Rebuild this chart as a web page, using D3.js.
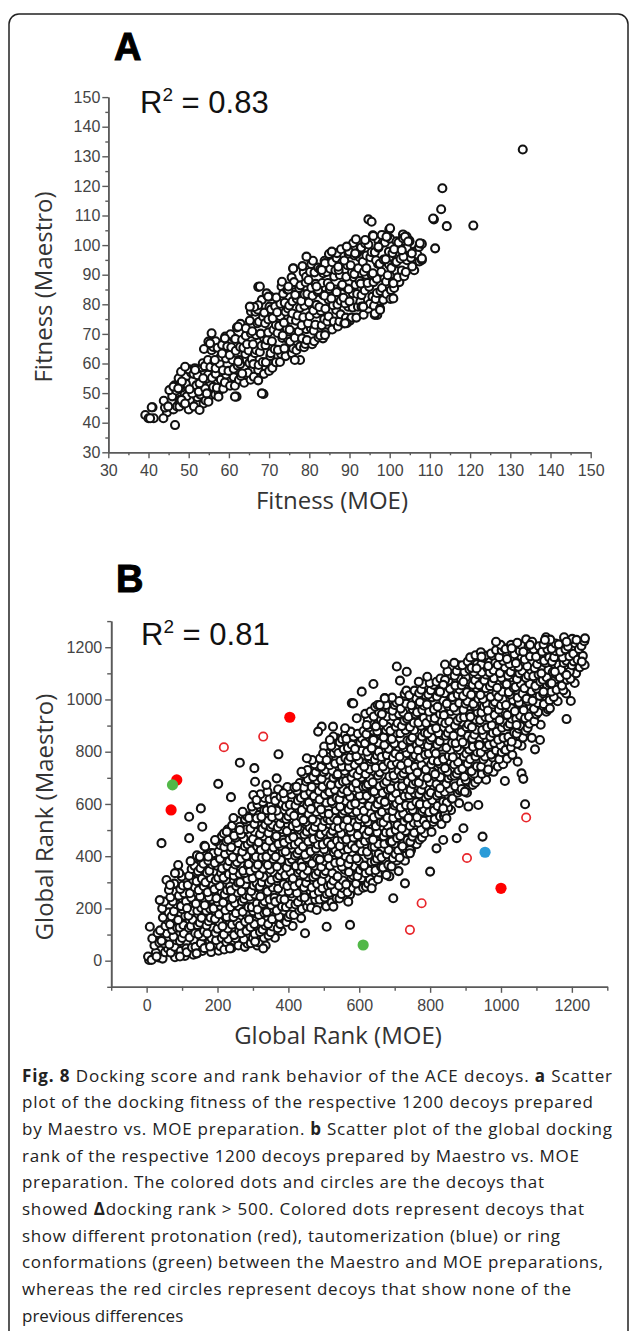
<!DOCTYPE html>
<html><head><meta charset="utf-8">
<script src="https://cdn.jsdelivr.net/npm/d3@7"></script>
<style>html,body{margin:0;padding:0;background:#fff;} svg{display:block}</style>
</head><body>
<svg id="fig" width="629" height="1331"></svg>
<script>
// ---------- DATA ----------
const fitnessTicks = [30,40,50,60,70,80,90,100,110,120,130,140,150];
const fitnessMinorTicks = [35,45,55,65,75,85,95,105,115,125,135,145];
const rankTicks = [0,200,400,600,800,1000,1200];
const rankMinorTicks = [-100,100,300,500,700,900,1100,1300];
const panelLabels = ["A","B"];
const r2Values = ["0.83","0.81"];
const axisTitles = ["Fitness (MOE)","Fitness (Maestro)","Global Rank (MOE)","Global Rank (Maestro)"];

// Panel A: [Fitness (MOE), Fitness (Maestro)]
const fitnessPoints = [
[44.6,43.5],[44.1,45.1],[43.8,47.4],
[46.2,44.5],[44.9,45.5],[45.9,48.9],[45.2,51],
[47.1,45.5],[47.7,46.9],[46.9,50.9],[46.5,52.6],[47.5,55],
[47.7,45.5],[48.7,46.8],[49,49.7],[48.2,51.8],[49.3,55.5],[48.1,57.2],
[50,44.5],[50.3,47.6],[49.5,48.9],[50.3,51.2],[49.3,53.2],[50.6,56.9],[50.1,58],
[51.3,45.5],[52.2,48.6],[50.9,49.9],[51.9,52.6],[51.2,56.5],[51.6,58.1],
[53.7,46.5],[52.9,49.5],[52.5,50.5],[53.5,53.9],[52.2,56],[53.2,58.7],[53.5,60.1],
[54.2,47.5],[55.3,49.2],[54.1,51.6],[54.5,54.9],[54.8,56.2],[54,59.1],[54.8,61.2],[53.8,64.9],
[56.6,49.5],[56.1,52.1],[55.8,55.2],[56.7,56.5],[55.4,58.8],[56.4,60.8],[55.7,64.5],[56.1,65.6],[56.7,67.5],
[57.4,50.5],[57,51.8],[58,54.5],[56.7,58.4],[57.7,60],[58,62.3],[57.2,65.3],[58.3,66.3],
[58.6,51.5],[59,53.6],[59.3,56.3],[58.5,57.7],[59.3,61.7],[58.3,63.4],[59.6,65.8],[59.1,69.1],
[60.3,52.5],[61.2,55.4],[59.9,57.5],[60.9,61.2],[60.2,62.9],[60.6,65.5],[61.2,68.6],[60.4,69.9],
[61.5,52.5],[62.5,54.5],[61.2,58.2],[62.2,59.3],[62.5,61.2],[61.7,64.3],[62.8,65.6],[61.6,68.3],[62,72.2],
[63.8,53.5],[63,55.8],[63.8,58.8],[62.8,59.8],[64.1,63.2],[63.6,65.3],[63.3,68],[64.2,69.4],[62.9,73.4],
[65.4,54.5],[64.7,56.9],[65.1,60.2],[65.7,61.5],[64.9,64.4],[64.5,66.5],[65.5,70.2],[64.2,71.9],[65.2,74.5],[65.5,77.6],
[66.2,55.5],[67.3,57.8],[66.1,59.8],[66.5,63.5],[66.8,64.6],[66,66.5],[66.8,69.6],[65.8,70.9],[67.1,73.6],[66.6,77.5],[66.3,79.1],
[68.7,56.5],[67.4,59.5],[68.4,60.5],[67.7,63.9],[68.1,66],[68.7,68.7],[67.9,70.1],[67.5,74.1],[68.5,75.8],[67.2,78.2],[68.2,81.5],
[70,57.5],[69.2,60.4],[70.3,62.5],[69.1,66.2],[69.5,67.9],[69.8,70.5],[69,73.6],[69.8,74.9],[68.8,77.2],[70.1,79.2],[69.6,82.9],
[70.8,58.5],[71.7,60.4],[70.4,63.5],[71.4,64.8],[70.7,67.5],[71.1,71.4],[71.7,73],[70.9,75.3],[70.5,78.3],[71.5,79.3],[70.2,82.7],
[72.7,60.5],[73,63.2],[72.2,64.6],[73.3,68.6],[72.1,70.3],[72.5,72.7],[72.8,76],[72,77.3],[72.8,80.2],[71.8,82.3],[73.1,86],
[74.1,62.5],[73.8,65.1],[74.7,68.2],[73.4,69.5],[74.4,71.8],[73.7,73.8],[74.1,77.5],[74.7,78.6],[73.9,80.5],[73.5,83.6],[74.5,84.9],[73.2,87.6],
[75.7,63.5],[76,65.1],[75.2,67.4],[76.3,70.4],[75.1,71.4],[75.5,74.8],[75.8,76.9],[75,79.6],[75.8,81],[74.8,85],[76.1,86.7],[75.6,89.1],
[76.8,64.5],[77.7,65.8],[76.4,68.7],[77.4,70.8],[76.7,74.5],[77.1,76.2],[77.7,78.8],[76.9,81.9],[76.5,83.2],[77.5,85.5],[76.2,87.5],
[78.7,65.5],[79,66.6],[78.2,68.5],[79.3,71.6],[78.1,72.9],[78.5,75.6],[78.8,79.5],[78,81.1],[78.8,83.4],[77.8,86.4],[79.1,87.4],[78.6,90.8],[78.3,92.9],
[80.7,66.5],[79.4,67.9],[80.4,71.9],[79.7,73.6],[80.1,76],[80.7,79.3],[79.9,80.6],[79.5,83.5],[80.5,85.6],[79.2,89.3],[80.2,91],[80.5,93.6],
[81.2,67.5],[82.3,68.8],[81.1,71.1],[81.5,73.1],[81.8,76.8],[81,77.9],[81.8,79.8],[80.8,82.9],[82.1,84.2],[81.6,86.9],[81.3,90.8],[82.2,92.4],[80.9,94.7],
[83.4,68.5],[82.7,69.5],[83.1,72.9],[83.7,75],[82.9,77.7],[82.5,79.1],[83.5,83.1],[82.2,84.8],[83.2,87.2],[83.5,90.5],[82.7,91.8],[83.8,94.7],
[84.1,70.5],[84.5,74.2],[84.8,75.9],[84,78.5],[84.8,81.6],[83.8,82.9],[85.1,85.2],[84.6,87.2],[84.3,90.9],[85.2,92],[83.9,93.9],[84.9,97],
[85.7,71.5],[86.1,74.2],[86.7,78.1],[85.9,79.7],[85.5,82],[86.5,85],[85.2,86],[86.2,89.4],[86.5,91.5],[85.7,94.2],[86.8,95.6],
[87.1,72.5],[87.5,74.2],[87.8,76.6],[87,79.9],[87.8,81.2],[86.8,84.1],[88.1,86.2],[87.6,89.9],[87.3,91.6],[88.2,94.2],[86.9,97.3],[87.9,98.6],
[88.7,73.5],[89.1,75.5],[89.7,79.2],[88.9,80.3],[88.5,82.2],[89.5,85.3],[88.2,86.6],[89.2,89.3],[89.5,93.2],[88.7,94.8],[89.8,97.1],
[90.1,74.5],[90.5,75.5],[90.8,78.9],[90,81],[90.8,83.7],[89.8,85.1],[91.1,89.1],[90.6,90.8],[90.3,93.2],[91.2,96.5],[89.9,97.8],[90.9,100.7],
[91.7,75.5],[92.1,79.2],[92.7,80.9],[91.9,83.5],[91.5,86.6],[92.5,87.9],[91.2,90.2],[92.2,92.2],[92.5,95.9],[91.7,97],[92.8,98.9],[91.6,102],
[93.5,76.5],[93.8,79.2],[93,83.1],[93.8,84.7],[92.8,87],[94.1,90],[93.6,91],[93.3,94.4],[94.2,96.5],[92.9,99.2],[93.9,100.6],
[94.7,78.5],[95.1,80.2],[95.7,82.6],[94.9,85.9],[94.5,87.2],[95.5,90.1],[94.2,92.2],[95.2,95.9],[95.5,97.6],[94.7,100.2],[95.8,103.3],
[96.1,79.5],[96.5,81.8],[96.8,83.8],[96,87.5],[96.8,88.6],[95.8,90.5],[97.1,93.6],[96.6,94.9],[96.3,97.6],[97.2,101.5],[95.9,103.1],
[98.4,81.5],[97.7,84.5],[98.1,85.5],[98.7,88.9],[97.9,91],[97.5,93.7],[98.5,95.1],[97.2,99.1],[98.2,100.8],[98.5,103.2],
[99.2,83.5],[100.3,84.8],[99.1,87.7],[99.5,89.8],[99.8,93.5],[99,95.2],[99.8,97.8],[98.8,100.9],[100.1,102.2],
[101.1,85.5],[100.8,87.5],[101.7,91.2],[100.4,92.3],[101.4,94.2],[100.7,97.3],[101.1,98.6],[101.7,101.3],
[102.4,87.5],[102,89.1],[103,91.4],[101.7,94.4],[102.7,95.4],[103,98.8],[102.2,100.9],[103.3,103.6],
[103.6,89.5],[104,90.9],[104.3,94.9],[103.5,96.6],[104.3,99],[103.3,102.3],
[106.1,91.5],[105.6,92.8],[105.3,95.7],[106.2,97.8],[104.9,101.5],
[107.4,94.5],[106.9,96.8],[107.3,99.4],
[39.2,42.6],[40,41.5],[41,45.2],[41.3,41.5],[43.7,41.5],[46.6,39.2],[40.4,41.5],[40.8,45.2],
[46.2,52.2],[47.8,52.2],[48.3,53.9],[47.8,47.7],[48.7,46.6],[49.1,58.9],[51.5,58.4],[52.7,53.3],[52.7,44.3],[50.2,51.3],[54.5,49.9],[54.9,47.1],[55.7,70.2],[54.9,67.4],[61.9,48.8],[68.6,49.7],[67.3,85.9],[67.3,79.7],[66.3,79.1],[69.4,83.7],[76,92.2],[79.3,96.1],[67.3,54.3],[62.3,60.6],[63.3,56.6],[47.4,51.6],[48.2,47.7],[49.1,46.5],
[133.1,132.3],[113.1,119.2],[112.8,112.1],[114.2,106.4],[111,108.7],[120.8,106.6],[111.3,98.9],[108,100.4],[108,95],[104.2,102.9],[104.9,101.2],[99.9,105.3],[99.4,102.9],[98,103.4],[94.7,108.7],[95.5,107.9],[100.9,87.1],[100.2,81.8],[97.6,78.6],[96.9,76.4],[96.3,76.4],[93,79.2],[89.3,73.6],[83.9,69.6],[77.7,61.2],[103.4,96.1],
[51.6,57.8],[53.6,55],[55.3,66.8],[56.5,61.2],[57.4,48.8],[59,68.5],[61.5,48.8],[62.3,72.4],[65.2,79.2],[67.7,86],[68.2,49.9],[69.8,82.6],[74.8,86],[76,92.1],[76.4,61.2],[79.8,88.2],[81.8,86],[83.1,91.6],[85.6,97.8],[87.2,92.7],[88.9,73.6],[89.3,99.5],[91.4,97.2],[93.4,79.2],[93.9,101.7],[96.3,76.9],[97.2,99.5],[97.6,78.1],[99.2,102.8],[100.1,105.7],[100.9,82],[103,98.3],[103.8,102.8],[104.6,101.2],[105.5,97.2],[107.5,100.6],[108,95.5],[110.8,109]
];

// Panel B: [Global Rank (MOE), Global Rank (Maestro)] for the decoys (black circles)
const rankPoints = [
[7,3],[4,16],
[14,3],[34,12],[26,31],[22,58],[36,69],[16,85],[31,106],
[45,8],[52,32],[60,47],[49,66],[42,76],[57,104],[38,116],[53,133],[58,156],[46,165],[62,185],[44,200],[50,226],
[80,13],[68,31],[79,53],[64,62],[84,78],[76,92],[72,118],[86,126],[66,139],[81,161],[70,170],[77,189],[85,216],[74,227],[67,243],[82,264],[63,271],[78,295],
[108,18],[96,37],[112,47],[94,75],[100,87],[105,104],[93,127],[104,136],[89,156],[109,171],[101,197],[97,209],[111,227],[91,249],[106,258],[95,274],[102,288],[110,314],[99,322],[92,335],
[132,23],[113,32],[128,51],[133,78],[121,89],[137,105],[119,126],[125,133],[130,157],[118,172],[129,191],[114,201],[134,229],[126,241],[122,258],[136,281],[116,290],[131,310],[120,325],[127,351],[135,363],[124,381],
[142,28],[157,37],[138,53],[153,67],[158,93],[146,101],[162,114],[144,136],[150,145],[155,164],[143,191],[154,202],[139,218],[159,239],[151,246],[147,270],[161,285],[141,304],[156,314],[145,342],[152,354],[160,371],[149,394],[142,403],
[182,33],[163,48],[178,74],[183,86],[171,104],[187,126],[169,135],[175,151],[180,165],[168,191],[179,199],[164,212],[184,234],[176,243],[172,262],[186,289],[166,300],[181,316],[170,337],[177,344],[185,368],[174,383],[167,402],[182,412],[163,440],
[203,38],[208,55],[196,78],[212,87],[194,107],[200,122],[205,148],[193,160],[204,178],[189,200],[209,209],[201,225],[197,239],[211,265],[191,273],[206,286],[195,308],[202,317],[210,336],[199,363],[192,374],[207,390],[188,411],[203,418],[208,442],[196,457],[212,476],
[219,43],[225,71],[230,83],[218,100],[229,123],[214,132],[234,152],[226,167],[222,193],[236,205],[216,223],[231,245],[220,254],[227,270],[235,284],[224,310],[217,318],[232,331],[213,353],[228,362],[233,381],[221,408],[237,419],[219,435],[225,456],[230,463],[218,487],[229,502],
[239,48],[259,58],[251,86],[247,98],[261,115],[241,138],[256,147],[245,167],[252,182],[260,208],[249,220],[242,238],[257,260],[238,269],[253,285],[258,299],[246,325],[262,333],[244,346],[250,368],[255,377],[243,396],[254,423],[239,434],[259,450],[251,471],[247,478],[261,502],[241,517],[256,536],[245,546],
[277,53],[285,65],[274,82],[267,105],[282,114],[263,134],[278,149],[283,175],[271,187],[287,205],[269,227],[275,236],[280,252],[268,266],[279,292],[264,300],[284,313],[276,335],[272,344],[286,363],[266,390],[281,401],[270,417],[277,438],[285,445],[274,469],[267,484],[282,503],[263,513],[278,541],[283,553],[271,570],
[312,58],[294,67],[300,87],[305,102],[293,128],[304,140],[289,158],[309,180],[301,189],[297,205],[311,219],[291,245],[306,253],[295,266],[302,288],[310,297],[299,316],[292,343],[307,354],[288,370],[303,391],[308,398],[296,422],[312,437],[294,456],[300,466],[305,494],[293,506],[304,523],[289,546],[309,555],[301,575],[297,590],
[336,58],[316,70],[331,88],[320,110],[327,119],[335,135],[324,149],[317,175],[332,183],[313,196],[328,218],[333,227],[321,246],[337,273],[319,284],[325,300],[330,321],[318,328],[329,352],[314,367],[334,386],[326,396],[322,424],[336,436],[316,453],[331,476],[320,485],[327,505],[335,520],[324,546],[317,558],[332,576],[313,598],[328,607],[333,623],[321,637],
[362,88],[344,96],[350,109],[355,131],[343,140],[354,159],[339,186],[359,197],[351,213],[347,234],[361,241],[341,265],[356,280],[345,299],[352,309],[360,337],[349,349],[342,366],[357,389],[338,398],[353,418],[358,433],[346,459],[362,471],[344,489],[350,511],[355,520],[343,536],[354,550],[339,576],[359,584],[351,597],[347,619],[361,628],[341,647],
[381,113],[370,124],[377,140],[385,161],[374,168],[367,192],[382,207],[363,226],[378,236],[383,264],[371,276],[387,293],[369,316],[375,325],[380,345],[368,360],[379,386],[364,398],[384,416],[376,438],[372,447],[386,463],[366,477],[381,503],[370,511],[377,524],[385,546],[374,555],[367,574],[382,601],[363,612],[378,628],[383,649],[371,656],
[412,133],[394,148],[400,167],[405,177],[393,205],[404,217],[389,234],[409,257],[401,266],[397,286],[411,301],[391,327],[406,339],[395,357],[402,379],[410,388],[399,404],[392,418],[407,444],[388,452],[403,465],[408,487],[396,496],[412,515],[394,542],[400,553],[405,569],[393,590],[404,597],[389,621],[409,636],[401,655],[397,665],
[436,163],[416,175],[431,192],[420,215],[427,224],[435,244],[424,259],[417,285],[432,297],[413,315],[428,337],[433,346],[421,362],[437,376],[419,402],[425,410],[430,423],[418,445],[429,454],[414,473],[434,500],[426,511],[422,527],[436,548],[416,555],[431,579],[420,594],[427,613],[435,623],[424,651],[417,663],[432,680],
[438,198],[453,207],[458,227],[446,242],[462,268],[444,280],[450,298],[455,320],[443,329],[454,345],[439,359],[459,385],[451,393],[447,406],[461,428],[441,437],[456,456],[445,483],[452,494],[460,510],[449,531],[442,538],[457,562],[438,577],[453,596],[458,606],[446,634],[462,646],[444,663],[450,686],[455,695],[443,715],[454,730],
[464,203],[484,215],[476,233],[472,255],[486,264],[466,280],[481,294],[470,320],[477,328],[485,341],[474,363],[467,372],[482,391],[463,418],[478,429],[483,445],[471,466],[487,473],[469,497],[475,512],[480,531],[468,541],[479,569],[464,581],[484,598],[476,621],[472,630],[486,650],[466,665],[481,691],[470,703],[477,721],[485,743],[474,752],[467,768],
[507,208],[488,234],[503,242],[508,255],[496,277],[512,286],[494,305],[500,332],[505,343],[493,359],[504,380],[489,387],[509,411],[501,426],[497,445],[511,455],[491,483],[506,495],[495,512],[502,535],[510,544],[499,564],[492,579],[507,605],[488,617],[503,635],[508,657],[496,666],[512,682],[494,696],[500,722],[505,730],[493,743],[504,765],[489,774],[509,793],[501,820],
[522,223],[536,239],[516,260],[531,267],[520,291],[527,306],[535,325],[524,335],[517,363],[532,375],[513,392],[528,415],[533,424],[521,444],[537,459],[519,485],[525,497],[530,515],[518,537],[529,546],[514,562],[534,576],[526,602],[522,610],[536,623],[516,645],[531,654],[520,673],[527,700],[535,711],[524,727],[517,748],[532,755],[513,779],[528,794],[533,813],[521,823],[537,851],
[544,238],[550,255],[555,278],[543,287],[554,307],[539,322],[559,348],[551,360],[547,378],[561,400],[541,409],[556,425],[545,439],[552,465],[560,473],[549,486],[542,508],[557,517],[538,536],[553,563],[558,574],[546,590],[562,611],[544,618],[550,642],[555,657],[543,676],[554,686],[539,714],[559,726],[551,743],[547,766],[561,775],[541,795],[556,810],[545,836],[552,848],[560,866],
[574,253],[567,262],[582,278],[563,292],[578,318],[583,326],[571,339],[587,361],[569,370],[575,389],[580,416],[568,427],[579,443],[564,464],[584,471],[576,495],[572,510],[586,529],[566,539],[581,567],[570,579],[577,596],[585,619],[574,628],[567,648],[582,663],[563,689],[578,701],[583,719],[571,741],[587,750],[569,766],[575,780],[580,806],[568,814],[579,827],[564,849],[584,858],[576,877],
[597,268],[611,279],[591,295],[606,316],[595,323],[602,347],[610,362],[599,381],[592,391],[607,419],[588,431],[603,448],[608,471],[596,480],[612,500],[594,515],[600,541],[605,553],[593,571],[604,593],[589,602],[609,618],[601,632],[597,658],[611,666],[591,679],[606,701],[595,710],[602,729],[610,756],[599,767],[592,783],[607,804],[588,811],[603,835],[608,850],[596,869],[612,879],
[619,283],[625,295],[630,312],[618,335],[629,344],[614,364],[634,379],[626,405],[622,417],[636,435],[616,457],[631,466],[620,482],[627,496],[635,522],[624,530],[617,543],[632,565],[613,574],[628,593],[633,620],[621,631],[637,647],[619,668],[625,675],[630,699],[618,714],[629,733],[614,743],[634,771],[626,783],[622,800],[636,823],[616,832],[631,852],[620,867],[627,893],[635,905],[624,923],[617,945],[632,954],
[638,298],[653,312],[658,338],[646,346],[662,359],[644,381],[650,390],[655,409],[643,436],[654,447],[639,463],[659,484],[651,491],[647,515],[661,530],[641,549],[656,559],[645,587],[652,599],[660,616],[649,639],[642,648],[657,668],[638,683],[653,709],[658,721],[646,739],[662,761],[644,770],[650,786],[655,800],[643,826],[654,834],[639,847],[659,869],[651,878],[647,897],[661,924],[641,935],[656,951],[645,972],[652,979],
[685,323],[674,338],[667,357],[682,367],[663,395],[678,407],[683,424],[671,447],[687,456],[669,476],[675,491],[680,517],[668,529],[679,547],[664,569],[684,578],[676,594],[672,608],[686,634],[666,642],[681,655],[670,677],[677,686],[685,705],[674,732],[667,743],[682,759],[663,780],[678,787],[683,811],[671,826],[687,845],[669,855],[675,883],[680,895],[668,912],[679,935],[664,944],[684,964],[676,979],[672,1005],
[711,343],[691,361],[706,383],[695,392],[702,408],[710,422],[699,448],[692,456],[707,469],[688,491],[703,500],[708,519],[696,546],[712,557],[694,573],[700,594],[705,601],[693,625],[704,640],[689,659],[709,669],[701,697],[697,709],[711,726],[691,749],[706,758],[695,778],[702,793],[710,819],[699,831],[692,849],[707,871],[688,880],[703,896],[708,910],[696,936],[712,944],[694,957],[700,979],[705,988],[693,1007],
[729,383],[714,394],[734,410],[726,431],[722,438],[736,462],[716,477],[731,496],[720,506],[727,534],[735,546],[724,563],[717,586],[732,595],[713,615],[728,630],[733,656],[721,668],[737,686],[719,708],[725,717],[730,733],[718,747],[729,773],[714,781],[734,794],[726,816],[722,825],[736,844],[716,871],[731,882],[720,898],[727,919],[735,926],[724,950],[717,965],[732,984],[713,994],[728,1022],[733,1034],
[746,423],[762,446],[744,455],[750,475],[755,490],[743,516],[754,528],[739,546],[759,568],[751,577],[747,593],[761,607],[741,633],[756,641],[745,654],[752,676],[760,685],[749,704],[742,731],[757,742],[738,758],[753,779],[758,786],[746,810],[762,825],[744,844],[750,854],[755,882],[743,894],[754,911],[739,934],[759,943],[751,963],[747,978],[761,1004],[741,1016],[756,1034],
[770,463],[777,472],[785,488],[774,502],[767,528],[782,536],[763,549],[778,571],[783,580],[771,599],[787,626],[769,637],[775,653],[780,674],[768,681],[779,705],[764,720],[784,739],[776,749],[772,777],[786,789],[766,806],[781,829],[770,838],[777,858],[785,873],[774,899],[767,911],[782,929],[763,951],[778,960],[783,976],[771,990],[787,1016],[769,1024],[775,1037],[780,1059],[768,1068],
[804,493],[789,520],[809,531],[801,547],[797,568],[811,575],[791,599],[806,614],[795,633],[802,643],[810,671],[799,683],[792,700],[807,723],[788,732],[803,752],[808,767],[796,793],[812,805],[794,823],[800,845],[805,854],[793,870],[804,884],[789,910],[809,918],[801,931],[797,953],[811,962],[791,981],[806,1008],[795,1019],[802,1035],[810,1056],[799,1063],[792,1087],
[832,523],[813,542],[828,552],[833,580],[821,592],[837,609],[819,632],[825,641],[830,661],[818,676],[829,702],[814,714],[834,732],[826,754],[822,763],[836,779],[816,793],[831,819],[820,827],[827,840],[835,862],[824,871],[817,890],[832,917],[813,928],[828,944],[833,965],[821,972],[837,996],[819,1011],[825,1030],[830,1040],[818,1068],[829,1080],
[839,553],[859,576],[851,585],[847,605],[861,620],[841,646],[856,658],[845,676],[852,698],[860,707],[849,723],[842,737],[857,763],[838,771],[853,784],[858,806],[846,815],[862,834],[844,861],[850,872],[855,888],[843,909],[854,916],[839,940],[859,955],[851,974],[847,984],[861,1012],[841,1024],[856,1041],[845,1064],[852,1073],[860,1093],[849,1108],[842,1134],
[882,603],[863,621],[878,643],[883,652],[871,668],[887,682],[869,708],[875,716],[880,729],[868,751],[879,760],[864,779],[884,806],[876,817],[872,833],[886,854],[866,861],[881,885],[870,900],[877,919],[885,929],[874,957],[867,969],[882,986],[863,1009],[878,1018],[883,1038],[871,1053],[887,1079],[869,1091],[875,1109],[880,1131],[868,1140],
[904,643],[889,657],[909,683],[901,691],[897,704],[911,726],[891,735],[906,754],[895,781],[902,792],[910,808],[899,829],[892,836],[907,860],[888,875],[903,894],[908,904],[896,932],[912,944],[894,961],[900,984],[905,993],[893,1013],[904,1028],[889,1054],[909,1066],[901,1084],[897,1106],[911,1115],[891,1131],[906,1145],
[920,673],[927,681],[935,694],[924,716],[917,725],[932,744],[913,771],[928,782],[933,798],[921,819],[937,826],[919,850],[925,865],[930,884],[918,894],[929,922],[914,934],[934,951],[926,974],[922,983],[936,1003],[916,1018],[931,1044],[920,1056],[927,1074],[935,1096],[924,1105],[917,1121],[932,1135],[913,1161],[928,1169],
[958,693],[946,715],[962,724],[944,743],[950,770],[955,781],[943,797],[954,818],[939,825],[959,849],[951,864],[947,883],[961,893],[941,921],[956,933],[945,950],[952,973],[960,982],[949,1002],[942,1017],[957,1043],[938,1055],[953,1073],[958,1095],[946,1104],[962,1120],[944,1134],[950,1160],[955,1168],[943,1181],
[979,723],[964,732],[984,751],[976,778],[972,789],[986,805],[966,826],[981,833],[970,857],[977,872],[985,891],[974,901],[967,929],[982,941],[963,958],[978,981],[983,990],[971,1010],[987,1025],[969,1051],[975,1063],[980,1081],[968,1103],[979,1112],[964,1128],[984,1142],[976,1168],[972,1176],[986,1189],
[991,743],[1006,752],[995,771],[1002,798],[1010,809],[999,825],[992,846],[1007,853],[988,877],[1003,892],[1008,911],[996,921],[1012,949],[994,961],[1000,978],[1005,1001],[993,1010],[1004,1030],[989,1045],[1009,1071],[1001,1083],[997,1101],[1011,1123],[991,1132],[1006,1148],[995,1162],[1002,1188],[1010,1196],[999,1209],
[1017,773],[1032,788],[1013,807],[1028,817],[1033,845],[1021,857],[1037,874],[1019,897],[1025,906],[1030,926],[1018,941],[1029,967],[1014,979],[1034,997],[1026,1019],[1022,1028],[1036,1044],[1016,1058],[1031,1084],[1020,1092],[1027,1105],[1035,1127],[1024,1136],[1017,1155],[1032,1182],[1013,1193],[1028,1209],
[1058,823],[1046,830],[1062,854],[1044,869],[1050,888],[1055,898],[1043,926],[1054,938],[1039,955],[1059,978],[1051,987],[1047,1007],[1061,1022],[1041,1048],[1056,1060],[1045,1078],[1052,1100],[1060,1109],[1049,1125],[1042,1139],[1057,1165],[1038,1173],[1053,1186],[1058,1208],[1046,1217],
[1087,853],[1069,880],[1075,891],[1080,907],[1068,928],[1079,935],[1064,959],[1084,974],[1076,993],[1072,1003],[1086,1031],[1066,1043],[1081,1060],[1070,1083],[1077,1092],[1085,1112],[1074,1127],[1067,1153],[1082,1165],[1063,1183],[1078,1205],[1083,1214],[1071,1230],
[1112,903],[1094,917],[1100,943],[1105,951],[1093,964],[1104,986],[1089,995],[1109,1014],[1101,1041],[1097,1052],[1111,1068],[1091,1089],[1106,1096],[1095,1120],[1102,1135],[1110,1154],[1099,1164],[1092,1192],[1107,1204],[1088,1221],
[1128,953],[1133,962],[1121,982],[1137,997],[1119,1023],[1125,1035],[1130,1053],[1118,1075],[1129,1084],[1114,1100],[1134,1114],[1126,1140],[1122,1148],[1136,1161],[1116,1183],[1131,1192],[1120,1211],[1127,1238],
[1160,993],[1149,1009],[1142,1030],[1157,1037],[1138,1061],[1153,1076],[1158,1095],[1146,1105],[1162,1133],[1144,1145],[1150,1162],[1155,1185],[1143,1194],[1154,1214],[1139,1229],
[1184,1023],[1176,1035],[1172,1053],[1186,1075],[1166,1084],[1181,1100],[1170,1114],[1177,1140],[1185,1148],[1174,1161],[1167,1183],[1182,1192],[1163,1211],[1178,1238],
[1208,1063],[1196,1079],[1212,1100],[1194,1107],[1200,1131],[1205,1146],[1193,1165],[1204,1175],[1189,1203],[1209,1215],[1201,1232],
[1222,1123],[1236,1132],[1216,1152],[1231,1167],[1220,1193],[1227,1205],[1235,1223],
[42,450],[120,469],[120,551],[153,583],[157,513],[202,677],[263,758],[304,737],[372,790],[238,626],[56,309],[66,290],[37,232],[80,335],[89,366],[9,130],[28,16],[94,16],[141,28],[179,54],[235,47],[306,73],[329,47],
[150,398],[165,437],[174,398],[193,462],[226,494],[263,500],[310,545],[324,551],[353,577],[301,634],[310,615],[338,673],[306,685],[367,698],[386,641],[423,666],[437,723],[452,775],[494,896],[498,794],[508,768],[527,858],[517,845],[526,896],[560,890],[484,877],
[447,105],[508,130],[574,137],[569,226],[527,207],[480,194],[635,277],[696,239],[677,328],[729,296],[743,424],[743,411],[800,341],[818,430],[837,462],[875,469],[894,507],[842,564],[846,545],[837,583],[828,660],[898,647],[908,590],[936,596],[948,475],
[1011,688],[1047,762],[1058,717],[1063,696],[1068,599],[1096,809],[1110,845],[1030,838],[1044,902],[1138,966],[1120,1030],[1143,1062],[1152,1106],[1185,1094],[1185,925],[1197,994],[1228,1145],[1237,1234],[1213,1228],[1185,1221],[1124,1228],[1082,1209],[1030,1196],[986,1221],[945,1164],[931,1119],[894,1068],[842,1075],[837,1056],[828,1030],
[579,986],[583,985],[607,1030],[593,928],[621,902],[640,1059],[640,845],[635,813],[658,979],[672,1004],[706,1126],[734,1106],[715,1072]
];
// Highlighted decoys (Δdocking rank > 500)
const protonationDots = [[404,932],[85,692],[69,577],[1000,277]];   // red filled
const ringDots = [[73,673],[611,60]];                                   // green filled
const tautomerDots = [[955,415]];                                       // blue filled
const noneCircles = [[329,858],[218,817],[743,118],[776,220],[904,393],[1071,548]]; // red open

const captionLines = [
  [["Fig. 8",true],[" Docking score and rank behavior of the ACE decoys. ",false],["a",true],[" Scatter",false]],
  [["plot of the docking fitness of the respective 1200 decoys prepared",false]],
  [["by Maestro vs. MOE preparation. ",false],["b",true],[" Scatter plot of the global docking",false]],
  [["rank of the respective 1200 decoys prepared by Maestro vs. MOE",false]],
  [["preparation. The colored dots and circles are the decoys that",false]],
  [["showed ",false],["Δ",true],["docking rank > 500. Colored dots represent decoys that",false]],
  [["show different protonation (red), tautomerization (blue) or ring",false]],
  [["conformations (green) between the Maestro and MOE preparations,",false]],
  [["whereas the red circles represent decoys that show none of the",false]],
  [["previous differences",false]]
];
const captionWidths = [590,571,590,557,522,562,538,581,549,null];

// ---------- DRAW ----------
const svg = d3.select('#fig');
const TICKFONT = "'Liberation Sans', Arial, sans-serif";
const TITLEFONT = "'Open Sans', 'Noto Sans', sans-serif";

svg.append('rect').attr('x',9).attr('y',14).attr('width',619).attr('height',1345)
  .attr('rx',10).attr('fill','none').attr('stroke','#222').attr('stroke-width',1.5);

function styleAxis(g){
  g.select('.domain').attr('stroke','#5a5a5a').attr('stroke-width',1.6);
  g.selectAll('.tick line').attr('stroke','#5a5a5a').attr('stroke-width',1.4);
  g.selectAll('.tick text').attr('fill','#444').style('font-family',TICKFONT).style('font-size','16px');
}
function r2(x,y,val){
  const t = svg.append('text').attr('x',x).attr('y',y).attr('fill','#111')
    .style('font-family',TICKFONT).style('font-size','31px');
  t.append('tspan').text('R');
  t.append('tspan').attr('dy',-12).style('font-size','19px').text('2');
  t.append('tspan').attr('dy',12).text(' = ' + val);
}
function panelLabel(x,y,s){
  svg.append('text').attr('x',x).attr('y',y).text(s)
    .style('font-family',TICKFONT).style('font-weight','bold').style('font-size','38px')
    .attr('fill','#000').attr('stroke','#000').attr('stroke-width',1);
}
const fmt = d3.format('d');

// ===== Panel A =====
const xA = d3.scaleLinear().domain([30,150]).range([108.3,590.7]);
const yA = d3.scaleLinear().domain([30,150]).range([452.3,97.1]);
const gA = svg.append('g');
gA.append('g').attr('transform',`translate(0,${yA(30)})`)
  .call(d3.axisBottom(xA).tickValues(fitnessMinorTicks).tickSize(3).tickSizeOuter(0).tickFormat('')).call(styleAxis);
gA.append('g').attr('transform',`translate(0,${yA(30)})`)
  .call(d3.axisBottom(xA).tickValues(fitnessTicks).tickSize(6).tickSizeOuter(0).tickPadding(6).tickFormat(fmt)).call(styleAxis);
gA.append('g').attr('transform',`translate(${xA(30)},0)`)
  .call(d3.axisLeft(yA).tickValues(fitnessMinorTicks).tickSize(3).tickSizeOuter(0).tickFormat('')).call(styleAxis);
gA.append('g').attr('transform',`translate(${xA(30)},0)`)
  .call(d3.axisLeft(yA).tickValues(fitnessTicks).tickSize(6).tickSizeOuter(0).tickPadding(2).tickFormat(fmt)).call(styleAxis);

gA.append('g').selectAll('circle').data(fitnessPoints).join('circle')
  .attr('cx',d=>xA(d[0])).attr('cy',d=>yA(d[1])).attr('r',4)
  .attr('fill','#fff').attr('stroke','#111').attr('stroke-width',2.1);

svg.append('text').attr('x',332).attr('y',509).attr('text-anchor','middle').attr('fill','#333')
  .style('font-family',TITLEFONT).style('font-size','24px').text(axisTitles[0]);
svg.append('text').attr('transform','translate(52,287) rotate(-90)').attr('text-anchor','middle').attr('fill','#333')
  .style('font-family',TITLEFONT).style('font-size','24px').text(axisTitles[1]);
panelLabel(114,60,panelLabels[0]);
r2(140,113,r2Values[0]);

// ===== Panel B =====
const xB = d3.scaleLinear().domain([-100,1300]).range([111.2,607.3]);
const yB = d3.scaleLinear().domain([-100,1300]).range([986.8,621.1]);
const gB = svg.append('g');
gB.append('g').attr('transform',`translate(0,${yB(-100)})`)
  .call(d3.axisBottom(xB).tickValues(rankMinorTicks).tickSize(4).tickSizeOuter(0).tickFormat('')).call(styleAxis);
gB.append('g').attr('transform',`translate(0,${yB(-100)})`)
  .call(d3.axisBottom(xB).tickValues(rankTicks).tickSize(6).tickSizeOuter(0).tickPadding(7).tickFormat(fmt)).call(styleAxis);
gB.append('g').attr('transform',`translate(${xB(-100)},0)`)
  .call(d3.axisLeft(yB).tickValues(rankMinorTicks).tickSize(4).tickSizeOuter(0).tickFormat('')).call(styleAxis);
gB.append('g').attr('transform',`translate(${xB(-100)},0)`)
  .call(d3.axisLeft(yB).tickValues(rankTicks).tickSize(6).tickSizeOuter(0).tickPadding(3).tickFormat(fmt)).call(styleAxis);

gB.append('g').selectAll('circle').data(rankPoints).join('circle')
  .attr('cx',d=>xB(d[0])).attr('cy',d=>yB(d[1])).attr('r',4)
  .attr('fill','#fff').attr('stroke','#111').attr('stroke-width',2.1);
gB.append('g').selectAll('circle').data(noneCircles).join('circle')
  .attr('cx',d=>xB(d[0])).attr('cy',d=>yB(d[1])).attr('r',4.2)
  .attr('fill','#fff').attr('stroke','#e8262b').attr('stroke-width',1.7);
gB.append('g').selectAll('circle').data(protonationDots).join('circle')
  .attr('cx',d=>xB(d[0])).attr('cy',d=>yB(d[1])).attr('r',5.6).attr('fill','#ff0000');
gB.append('g').selectAll('circle').data(tautomerDots).join('circle')
  .attr('cx',d=>xB(d[0])).attr('cy',d=>yB(d[1])).attr('r',5.6).attr('fill','#2a9bd8');
gB.append('g').selectAll('circle').data(ringDots).join('circle')
  .attr('cx',d=>xB(d[0])).attr('cy',d=>yB(d[1])).attr('r',5.6).attr('fill','#52b848');

svg.append('text').attr('x',338).attr('y',1044).attr('text-anchor','middle').attr('fill','#333')
  .style('font-family',TITLEFONT).style('font-size','24px').text(axisTitles[2]);
svg.append('text').attr('transform','translate(53,817) rotate(-90)').attr('text-anchor','middle').attr('fill','#333')
  .style('font-family',TITLEFONT).style('font-size','24px').text(axisTitles[3]);
panelLabel(116,592,panelLabels[1]);
r2(141,645,r2Values[1]);

// ===== Caption =====
captionLines.forEach((segs,i)=>{
  const t = svg.append('text').attr('x',22).attr('y',1081.7 + i*26.67).attr('fill','#222')
    .style('font-family',TITLEFONT).style('font-size','17px');
  segs.forEach(([s,b])=>{ t.append('tspan').style('font-weight',b?'bold':'normal').text(s); });
  if (captionWidths[i]) t.attr('textLength',captionWidths[i]).attr('lengthAdjust','spacing');
});
</script>
</body></html>
